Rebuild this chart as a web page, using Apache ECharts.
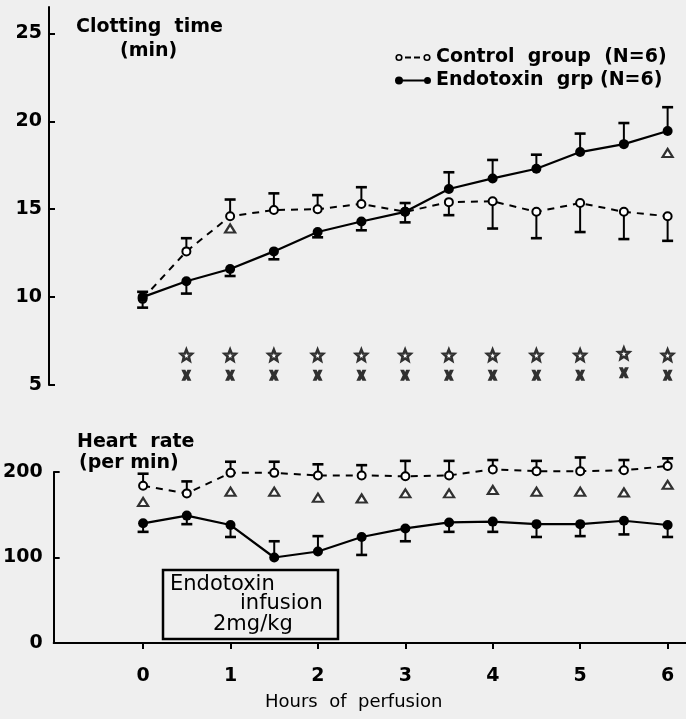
<!DOCTYPE html>
<html><head><meta charset="utf-8">
<script src="https://cdn.jsdelivr.net/npm/echarts@6/dist/echarts.min.js"></script>
<style>html,body{margin:0;padding:0;background:#efefef}#c{width:686px;height:719px}</style>
</head><body><div id="c"></div>
<script>
// ---- data ----
const hours = [0,0.5,1,1.5,2,2.5,3,3.5,4,4.5,5,5.5,6];
// Clotting time (min)
const clotControl   = [9.9, 12.6, 14.6, 14.95, 15.0, 15.3, 14.85, 15.4, 15.45, 14.85, 15.35, 14.85, 14.6];
const clotControlHi = [10.3, 13.35, 15.55, 15.9, 15.8, 16.25, 15.35, null, null, null, null, null, null];
const clotControlLo = [null, null, null, null, null, null, null, 14.66, 13.9, 13.35, 13.7, 13.3, 13.2];
const clotEndo      = [10.0, 10.9, 11.6, 12.6, 13.7, 14.3, 14.85, 16.15, 16.75, 17.3, 18.25, 18.7, 19.45];
const clotEndoLo    = [9.4, 10.2, 11.2, 12.15, 13.4, 13.8, 14.25, null, null, null, null, null, null];
const clotEndoHi    = [null, null, null, null, null, null, null, 17.1, 17.8, 18.1, 19.3, 19.9, 20.8];
const clotTriangle  = [null, null, 13.9, null, null, null, null, null, null, null, null, null, 18.2];
const starHours = [0.5,1,1.5,2,2.5,3,3.5,4,4.5,5,5.5,6];
const starLevel = [6.7, 6.7, 6.7, 6.7, 6.7, 6.7, 6.7, 6.7, 6.7, 6.7, 6.8, 6.7];
const crossLevel = [5.55, 5.55, 5.55, 5.55, 5.55, 5.55, 5.55, 5.55, 5.55, 5.55, 5.7, 5.55];
// Heart rate (per min)
const hrControl   = [184, 175, 199, 199, 196, 196, 195, 196, 203, 201, 201, 202, 207];
const hrControlHi = [198, 189, 212, 212, 209, 208, 213, 213, 214, 213, 217, 214, 216];
const hrTriangle  = [165, null, 177, 177, 170, 169, 175, 175, 179, 177, 177, 176, 185];
const hrEndo      = [140, 149, 138, 100, 107, 124, 134, 141, 142, 139, 139, 143, 138];
const hrEndoLo    = [130, 139, 124, null, null, 103, 119, 130, 130, 124, 125, 127, 124];
const hrEndoHi    = [null, null, null, 119, 125, null, null, null, null, null, null, null, null];
const clotTicks = [5,10,15,20,25];
const hrTicks = [0,100,200];
const hourTicks = [0,1,2,3,4,5,6];

const F = 'DejaVu Sans';
const chart = echarts.init(document.getElementById('c'), null, {renderer:'canvas'});

const pairs = (xs, ys) => xs.map((x,i)=> ys[i]==null ? null : [x, ys[i]]).filter(d=>d);
const errData = (vals, ends) => hours.map((h,i)=> ends[i]==null ? null : [h, vals[i], ends[i]]).filter(d=>d);

function errRender(params, api) {
  const x = api.value(0), v = api.value(1), e = api.value(2);
  const p0 = api.coord([x, v]), p1 = api.coord([x, e]);
  const w = 5.5;
  return {type:'group', children:[
    {type:'line', shape:{x1:p0[0], y1:p0[1], x2:p1[0], y2:p1[1]}, style:{stroke:'#000', lineWidth:2}},
    {type:'line', shape:{x1:p1[0]-w, y1:p1[1], x2:p1[0]+w, y2:p1[1]}, style:{stroke:'#000', lineWidth:2.6}}
  ]};
}
const errSeries = (xi, yi, data) => ({type:'custom', xAxisIndex:xi, yAxisIndex:yi, renderItem:errRender,
  data:data, encode:{x:0, y:[1,2]}, z:1, silent:true, clip:false});

const ring = (cx,cy,R,r) => `M${cx-R} ${cy} A${R} ${R} 0 1 1 ${cx+R} ${cy} A${R} ${R} 0 1 1 ${cx-R} ${cy} Z M${cx-r} ${cy} A${r} ${r} 0 1 0 ${cx+r} ${cy} A${r} ${r} 0 1 0 ${cx-r} ${cy} Z`;
const disc = (cx,cy,R) => `M${cx-R} ${cy} A${R} ${R} 0 1 1 ${cx+R} ${cy} A${R} ${R} 0 1 1 ${cx-R} ${cy} Z`;
const ctrlIcon = 'path://' + ring(4,4,3.6,2.0) + ' M10 3.1 L16 3.1 L16 4.9 L10 4.9 Z M19 3.1 L25 3.1 L25 4.9 L19 4.9 Z ' + ring(32,4,3.6,2.0) + ' M0 0 L0.01 0 Z M36 8 L35.99 8 Z';
const endoIcon = 'path://' + disc(4,4,4) + ' M7 3 L31 3 L31 5 L7 5 Z ' + disc(32.5,4,3.5);
const starPath = 'path://M10 0 L12.645 6.359 L19.511 6.91 L14.28 11.391 L15.878 18.09 L10 14.5 L4.122 18.09 L5.72 11.391 L0.489 6.91 L7.355 6.359 Z';
const crossPath = 'path://M0 0 L4 0 L5 2 L6 0 L10 0 L7.4 5 L10 10 L6 10 L5 8 L4 10 L0 10 L2.6 5 Z';

const ctrlName = 'Control group (N=6)', endoName = 'Endotoxin grp (N=6)';
const openDot = {color:'#fff', borderColor:'#000', borderWidth:2};
const fullDot = {color:'#000', borderColor:'#000', borderWidth:0};
const dashed = {color:'#000', width:2, type:[7,6]};
const solid = {color:'#000', width:2.2, type:'solid'};
const numLabel = {fontFamily:F, fontSize:19, fontWeight:'bold', color:'#000'};
const txt = (s, x, y, size, weight) => ({type:'text', x:x, y:y,
  style:{text:s, font:`${weight||'bold'} ${size}px "${F}"`, fill:'#000', verticalAlign:'middle', align:'left'}});

chart.setOption({
  animation:false,
  backgroundColor:'#efefef',
  grid:[
    {left:49, right:0, top:7, height:378},
    {left:53, right:0, top:472, height:171}
  ],
  xAxis:[
    {gridIndex:0, type:'value', min:-1.07, max:6.21, show:false},
    {gridIndex:1, type:'value', min:-1.023, max:6.21,
      axisLine:{show:true, onZero:false, lineStyle:{color:'#000', width:2}},
      axisTick:{show:true, customValues:hourTicks, length:6, lineStyle:{color:'#000', width:2}},
      axisLabel:{customValues:hourTicks, fontFamily:F, fontSize:19, fontWeight:'bold', color:'#000', margin:24},
      splitLine:{show:false}}
  ],
  yAxis:[
    {gridIndex:0, type:'value', min:5, max:26.5,
      axisLine:{show:true, onZero:false, lineStyle:{color:'#000', width:2}},
      axisTick:{show:true, inside:true, length:6, customValues:clotTicks, lineStyle:{color:'#000', width:2}},
      axisLabel:Object.assign({customValues:clotTicks, margin:7}, numLabel),
      splitLine:{show:false}},
    {gridIndex:1, type:'value', min:0, max:200,
      axisLine:{show:true, onZero:false, lineStyle:{color:'#000', width:2}},
      axisTick:{show:true, inside:true, length:6, customValues:hrTicks, lineStyle:{color:'#000', width:2}},
      axisLabel:Object.assign({customValues:hrTicks, margin:11}, numLabel),
      splitLine:{show:false}}
  ],
  legend:{
    orient:'vertical', left:395, top:48, itemGap:4, itemWidth:36, itemHeight:8, padding:0,
    selectedMode:false,
    textStyle:{fontFamily:F, fontSize:19, fontWeight:'bold', color:'#000'},
    formatter: n => n.replace(' group ', '  group  ').replace('Endotoxin grp ', 'Endotoxin  grp '),
    data:[
      {name:ctrlName, icon:ctrlIcon, itemStyle:{color:'#000', borderWidth:0}},
      {name:endoName, icon:endoIcon, itemStyle:{color:'#000', borderWidth:0}}
    ]
  },
  graphic:[
    txt('Clotting  time', 76, 27.5, 19),
    txt('(min)', 120, 51, 19),
    txt('Heart  rate', 77, 442.5, 19),
    txt('(per min)', 79, 463, 19),
    {type:'rect', shape:{x:163, y:570, width:175, height:69}, style:{fill:'none', stroke:'#000', lineWidth:2.5}},
    txt('Endotoxin', 170, 585, 21, 'normal'),
    txt('infusion', 240, 604, 21, 'normal'),
    txt('2mg/kg', 213, 625, 21, 'normal'),
    txt('Hours  of  perfusion', 265, 702, 18, 'normal')
  ],
  series:[
    errSeries(0,0,errData(clotControl, clotControlHi)),
    errSeries(0,0,errData(clotControl, clotControlLo)),
    errSeries(0,0,errData(clotEndo, clotEndoLo)),
    errSeries(0,0,errData(clotEndo, clotEndoHi)),
    errSeries(1,1,errData(hrControl, hrControlHi)),
    errSeries(1,1,errData(hrEndo, hrEndoLo)),
    errSeries(1,1,errData(hrEndo, hrEndoHi)),
    {name:ctrlName, type:'line', xAxisIndex:0, yAxisIndex:0, data:pairs(hours, clotControl), clip:false,
      symbol:'circle', symbolSize:8, itemStyle:openDot, lineStyle:dashed, z:3},
    {name:endoName, type:'line', xAxisIndex:0, yAxisIndex:0, data:pairs(hours, clotEndo), clip:false,
      symbol:'circle', symbolSize:10, itemStyle:fullDot, lineStyle:solid, z:3},
    {name:ctrlName, type:'line', xAxisIndex:1, yAxisIndex:1, data:pairs(hours, hrControl), clip:false,
      symbol:'circle', symbolSize:8, itemStyle:openDot, lineStyle:dashed, z:3},
    {name:endoName, type:'line', xAxisIndex:1, yAxisIndex:1, data:pairs(hours, hrEndo), clip:false,
      symbol:'circle', symbolSize:10, itemStyle:fullDot, lineStyle:solid, z:3},
    {type:'scatter', xAxisIndex:0, yAxisIndex:0, data:pairs(hours, clotTriangle), clip:false,
      symbol:'triangle', symbolSize:[10,8], itemStyle:{color:'#fff', borderColor:'#000', borderWidth:2.2}, z:3},
    {type:'scatter', xAxisIndex:1, yAxisIndex:1, data:pairs(hours, hrTriangle), clip:false,
      symbol:'triangle', symbolSize:[10,8], itemStyle:{color:'#fff', borderColor:'#000', borderWidth:2.2}, z:3},
    {type:'scatter', xAxisIndex:0, yAxisIndex:0, data:pairs(starHours, starLevel), clip:false,
      symbol:starPath, symbolSize:11, itemStyle:{color:'#fff', borderColor:'#000', borderWidth:2.6}, z:3},
    {type:'scatter', xAxisIndex:0, yAxisIndex:0, data:pairs(starHours, crossLevel), clip:false,
      symbol:crossPath, symbolSize:[10,11], itemStyle:{color:'#000'}, z:3}
  ]
});
</script>
</body></html>
